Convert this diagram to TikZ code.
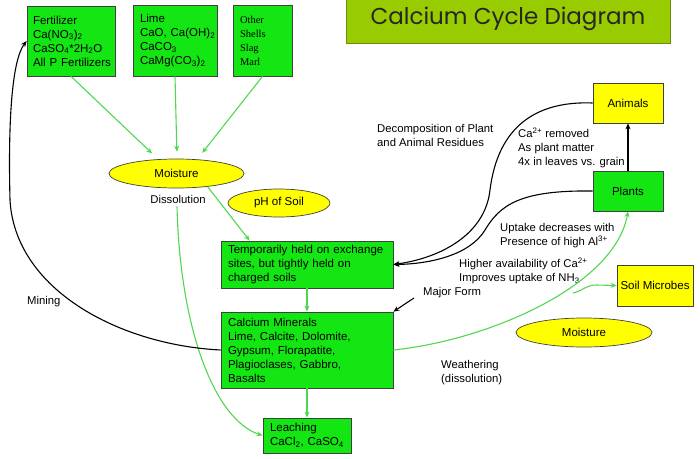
\documentclass[tikz,border=0pt]{standalone}
\usepackage{fontspec}
\setmainfont{Liberation Sans}
\newfontfamily\serifnf{Liberation Serif}
\newfontfamily\titlenf{Poppins}
\usetikzlibrary{arrows.meta,shapes.geometric,calc,backgrounds}
\definecolor{boxgreen}{RGB}{20,230,20}
\definecolor{titlegreen}{RGB}{153,204,0}
\definecolor{titleedge}{RGB}{110,140,20}
\definecolor{ylw}{RGB}{255,255,0}
\definecolor{arrowgreen}{RGB}{80,215,80}
\begin{document}
\begin{tikzpicture}[x=1pt,y=-1pt,
 box/.style={draw=black!75, line width=0.7pt, inner xsep=7pt, inner ysep=0pt, align=left, font=\fontsize{11.5}{14}\selectfont},
 gbox/.style={box, fill=boxgreen},
 ybox/.style={box, fill=ylw, align=center},
 oval/.style={ellipse, draw=black!75, line width=0.7pt, fill=ylw, inner sep=0pt, font=\fontsize{11.5}{14}\selectfont},
 lbl/.style={align=left, inner sep=0pt, font=\fontsize{11.3}{14}\selectfont},
 garrow/.style={draw=arrowgreen, line width=1.1pt, -{Stealth[length=6pt,width=5pt]}},
 barrow/.style={draw=black, line width=1.1pt, -{Stealth[length=6pt,width=5pt]}},
]
\useasboundingbox (0,0) rectangle (700,458);

% title
\node[draw=titleedge, line width=0.8pt, fill=titlegreen, minimum width=324pt, minimum height=48pt, inner sep=0pt,
      font=\titlenf\fontsize{23}{26}\selectfont, text=black!85] (title) at (508,19) {Calcium Cycle Diagram};

% source boxes
\node[gbox, minimum width=88pt, minimum height=70pt, text width=76pt, inner xsep=6pt] (fert) at (71,41)
  {Fertilizer\\Ca(NO\textsubscript{3})\textsubscript{2}\\CaSO\textsubscript{4}*2H\textsubscript{2}O\\\mbox{All P Fertilizers}};
\node[gbox, minimum width=84pt, minimum height=71pt, text width=70pt] (lime) at (175,40.5)
  {Lime\\\mbox{CaO, Ca(OH)\textsubscript{2}}\\CaCO\textsubscript{3}\\\mbox{CaMg(CO\textsubscript{3})\textsubscript{2}}};
\node[gbox, minimum width=59pt, minimum height=71pt, text width=45pt, font=\serifnf\fontsize{10.5}{14}\selectfont] (other) at (262.5,40.5)
  {Other\\Shells\\Slag\\Marl};

% ellipses
\node[oval, minimum width=135pt, minimum height=29pt] (moist1) at (176.5,173.5) {Moisture};
\node[oval, minimum width=102pt, minimum height=28pt] (ph) at (279,203) {pH of Soil};
\node[oval, minimum width=136pt, minimum height=29pt] (moist2) at (584,332.5) {Moisture};

% soil boxes
\node[gbox, minimum width=172pt, minimum height=47pt, text width=158pt] (temp) at (307,264.5)
  {\mbox{Temporarily held on exchange}\\\mbox{sites, but tightly held on}\\charged soils};
\node[gbox, minimum width=172pt, minimum height=76pt, text width=158pt] (calc) at (307,350)
  {Calcium Minerals\\\mbox{Lime, Calcite, Dolomite,}\\\mbox{Gypsum, Florapatite,}\\\mbox{Plagioclases, Gabbro,}\\Basalts};
\node[gbox, minimum width=88pt, minimum height=35pt, text width=74pt] (leach) at (307,435.5)
  {Leaching\\\mbox{CaCl\textsubscript{2}, CaSO\textsubscript{4}}};

% right boxes
\node[ybox, minimum width=70pt, minimum height=40pt] (animals) at (628,103) {Animals};
\node[gbox, align=center, minimum width=70pt, minimum height=40pt] (plants) at (628,191) {Plants};
\node[ybox, minimum width=76pt, minimum height=41pt, inner xsep=2pt] (microbes) at (655,285.5) {Soil Microbes};

% labels
\node[lbl] (diss) at (178,199) {Dissolution};
\node[lbl, anchor=west] (decomp) at (377,135) {Decomposition of Plant\\and Animal Residues};
\node[lbl, anchor=west] (removed) at (518,148) {Ca\textsuperscript{2+} removed\\As plant matter\\4x in leaves vs. grain};
\node[lbl, anchor=west] (uptake) at (500,236) {Uptake decreases with\\Presence of high Al\textsuperscript{3+}};
\node[lbl, anchor=west] (higher) at (459,271) {Higher availability of Ca\textsuperscript{2+}\\Improves uptake of NH\textsubscript{3}};
\node[lbl, anchor=west] (major) at (423,293) {Major Form};
\node[lbl, anchor=west] (weather) at (441,373) {Weathering\\(dissolution)};
\node[lbl, anchor=west] (mining) at (27,302) {Mining};

% green connectors
\draw[garrow, shorten >=6pt] (fert.south) -- ($(moist1.north)+(-20,-1)$);
\draw[garrow, shorten >=6pt] (lime.south) -- ($(moist1.north)+(0.5,-1)$);
\draw[garrow, shorten >=6pt] (other.south) -- ($(moist1.north)+(22,-1)$);
\draw[garrow] (moist1.-23) -- ($(temp.north west)+(29,0)$);
\draw[garrow] (temp.south) -- (calc.north);
\draw[garrow] (calc.south) -- (leach.north);
\begin{scope}[on background layer]
\draw[garrow] ($(diss.south)+(-1,3)$) .. controls (180,330) and (215,420) .. (leach.west);
\end{scope}
\draw[garrow] (calc.east) .. controls (490,340) and (615,285) .. (plants.south);
\coordinate (branch) at (573,293);
\draw[garrow] (branch) .. controls (585,290) and (585,285) .. (597,285) -- (microbes.west);

% black connectors
\draw[barrow] (calc.west) .. controls (120,345) and (15,290) .. (10,200) .. controls (8,120) and (12,60) .. (fert.west);
\draw[barrow] (animals.west) .. controls (515,100) and (495,150) .. (490,190) .. controls (485,235) and (440,258) .. (temp.east);
\draw[barrow] (plants.west) .. controls (520,190) and (500,205) .. (485,230) .. controls (470,255) and (430,264) .. (temp.east);
\draw[barrow] (plants.north) -- (animals.south);
\coordinate (mf) at (414,298);
\draw[barrow] (mf) -- (calc.north east);
\end{tikzpicture}
\end{document}
